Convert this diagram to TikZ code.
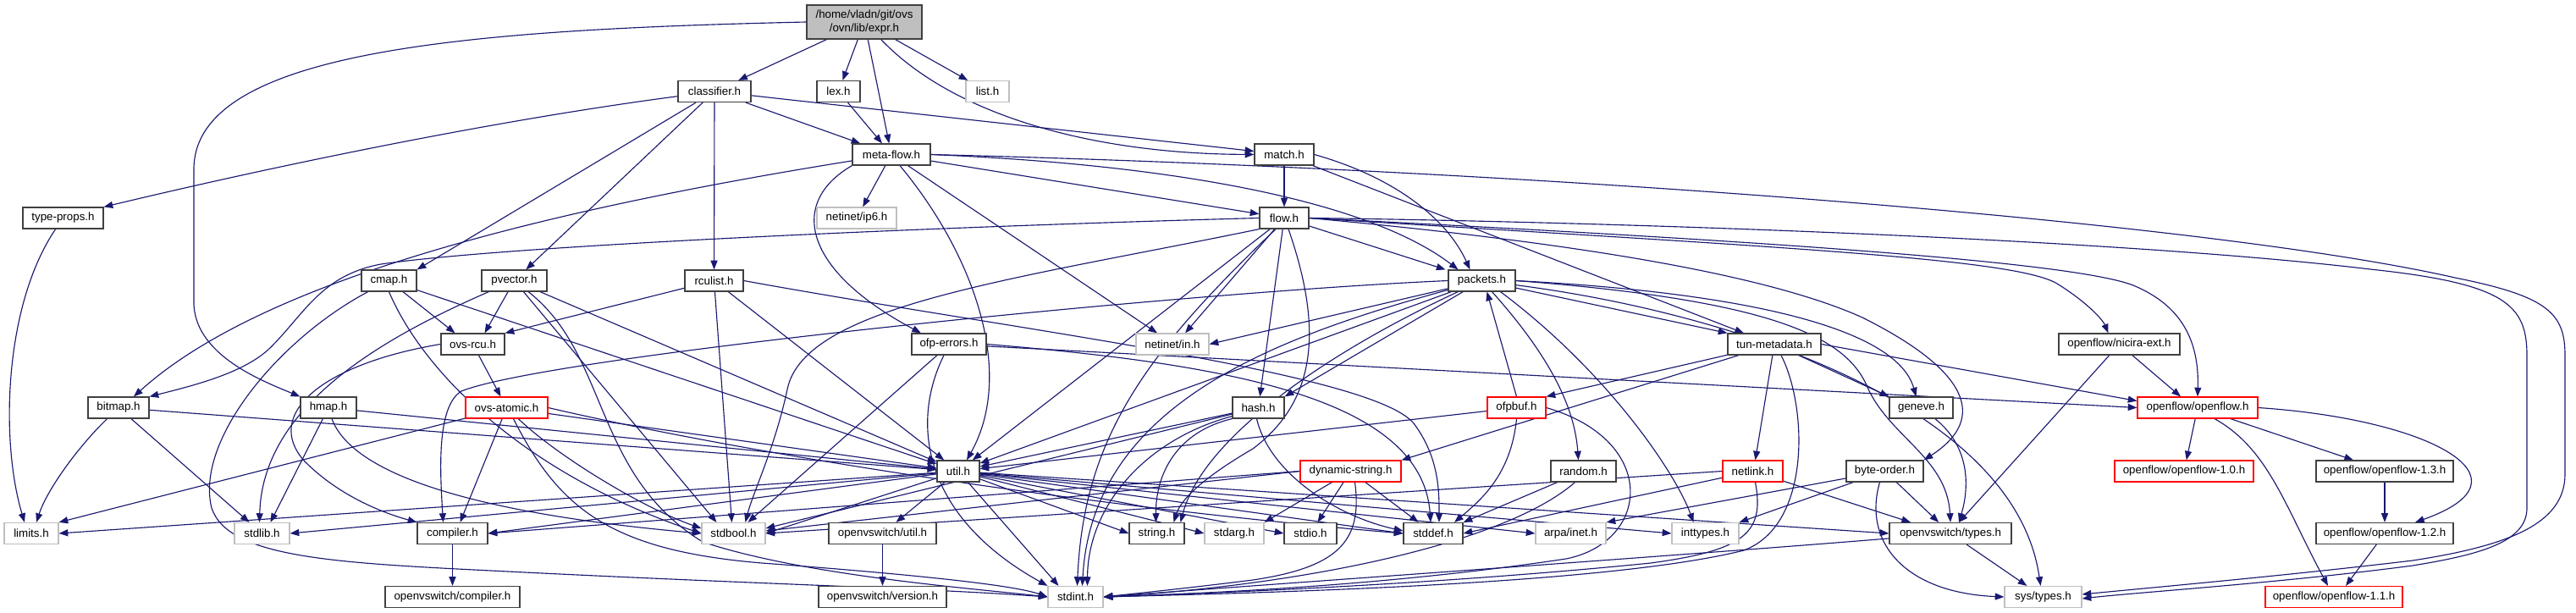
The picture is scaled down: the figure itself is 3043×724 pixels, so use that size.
\documentclass[tikz,border=0pt]{standalone}
\usepackage{fontspec}
\setmainfont{Liberation Sans}
\usetikzlibrary{arrows.meta,calc}
\definecolor{edgeblue}{HTML}{191970}
\definecolor{extgray}{HTML}{BFBFBF}
\definecolor{docgray}{HTML}{404040}
\pgfdeclarelayer{bg}
\pgfsetlayers{bg,main}
\tikzset{
  base/.style={rectangle, inner sep=0pt, minimum height=18.75pt, fill=white, line width=0.9pt, text=black, font=\fontsize{10}{11.5}\selectfont},
  doc/.style={base, draw=docgray},
  ext/.style={base, draw=extgray},
  trunc/.style={base, draw=red},
  gr/.style={base, draw=docgray, fill=extgray, align=center},
  bw/.style={minimum width=#1*0.75pt},
  e/.style={draw=edgeblue, line width=0.85pt, -{Triangle[length=8pt,width=6pt]}},
}
\begin{document}
\begin{tikzpicture}[x=0.75pt,y=-0.75pt]
\useasboundingbox (0,0) rectangle (3043,724);
% nodes
\node[gr, bw=136, minimum height=30pt] (expr) at (1021,26) {/home/vladn/git/ovs\\/ovn/lib/expr.h};
\node[doc, bw=86] (classifier) at (844,108) {classifier.h};
\node[doc, bw=51] (lex) at (990.5,108) {lex.h};
\node[ext, bw=51] (list) at (1166.5,108) {list.h};
\node[doc, bw=92] (metaflow) at (1053,182.5) {meta-flow.h};
\node[doc, bw=70] (match) at (1517,182.5) {match.h};
\node[doc, bw=95] (typeprops) at (74.5,257.5) {type-props.h};
\node[ext, bw=94] (ip6) at (1012,257.5) {netinet/ip6.h};
\node[doc, bw=58] (flow) at (1517,257.5) {flow.h};
\node[doc, bw=65] (cmap) at (459.5,331.5) {cmap.h};
\node[doc, bw=77] (pvector) at (607.5,331.5) {pvector.h};
\node[doc, bw=69] (rculist) at (843.5,331.5) {rculist.h};
\node[doc, bw=79] (packets) at (1750.5,331.5) {packets.h};
\node[doc, bw=75] (ovsrcu) at (558.5,406.5) {ovs-rcu.h};
\node[doc, bw=88] (ofperrors) at (1121,406.5) {ofp-errors.h};
\node[ext, bw=86] (netinetin) at (1385,406.5) {netinet/in.h};
\node[doc, bw=110] (tunmeta) at (2096,406.5) {tun-metadata.h};
\node[doc, bw=143] (nicira) at (2503.5,406.5) {openflow/nicira-ext.h};
\node[doc, bw=72] (bitmap) at (140,481.5) {bitmap.h};
\node[doc, bw=66] (hmap) at (388,481.5) {hmap.h};
\node[trunc, bw=97] (ovsatomic) at (598.5,481.5) {ovs-atomic.h};
\node[doc, bw=61] (hash) at (1486.5,481.5) {hash.h};
\node[trunc, bw=69] (ofpbuf) at (1791.5,481.5) {ofpbuf.h};
\node[doc, bw=75] (geneve) at (2269.5,481.5) {geneve.h};
\node[trunc, bw=142] (openflow) at (2596,481.5) {openflow/openflow.h};
\node[doc, bw=50] (util) at (1132,556.5) {util.h};
\node[trunc, bw=119] (dynstr) at (1595.5,556.5) {dynamic-string.h};
\node[doc, bw=77] (random) at (1870.5,556.5) {random.h};
\node[trunc, bw=71] (netlink) at (2070.5,556.5) {netlink.h};
\node[doc, bw=91] (byteorder) at (2226.5,556.5) {byte-order.h};
\node[trunc, bw=164] (of10) at (2580,556.5) {openflow/openflow-1.0.h};
\node[doc, bw=162] (of13) at (2817,556.5) {openflow/openflow-1.3.h};
\node[ext, bw=64] (limits) at (37,630) {limits.h};
\node[ext, bw=65] (stdlib) at (309.5,630) {stdlib.h};
\node[doc, bw=83] (compiler) at (534.5,630) {compiler.h};
\node[ext, bw=75] (stdbool) at (866.5,630) {stdbool.h};
\node[doc, bw=127] (ovsutil) at (1042.5,630) {openvswitch/util.h};
\node[doc, bw=65] (string) at (1366.5,630) {string.h};
\node[ext, bw=70] (stdarg) at (1458,630) {stdarg.h};
\node[doc, bw=62] (stdio) at (1548,630) {stdio.h};
\node[doc, bw=70] (stddef) at (1693,630) {stddef.h};
\node[ext, bw=83] (arpainet) at (1855.5,630) {arpa/inet.h};
\node[ext, bw=79] (inttypes) at (2014.5,630) {inttypes.h};
\node[doc, bw=144] (ovstypes) at (2304,630) {openvswitch/types.h};
\node[doc, bw=162] (of12) at (2817,630) {openflow/openflow-1.2.h};
\node[doc, bw=159] (ovscompiler) at (534.5,705) {openvswitch/compiler.h};
\node[doc, bw=151] (ovsversion) at (1042.5,705) {openvswitch/version.h};
\node[ext, bw=65] (stdint) at (1270.5,705) {stdint.h};
\node[ext, bw=91] (systypes) at (2413.5,705) {sys/types.h};
\node[trunc, bw=162] (of11) at (2757,705) {openflow/openflow-1.1.h};

\begin{pgfonlayer}{bg}
\fill[white] (0,0) rectangle (3043,724);
% expr
\draw[e] (expr) -- (classifier);
\draw[e] (expr) -- (lex);
\draw[e] (expr) -- (metaflow);
\draw[e] (expr) -- (list);
\draw[e] (expr) .. controls (1130,140) and (1300,182) .. (match);
\draw[e] (expr.west) .. controls (550,35) and (229,60) .. (229,200) -- (229,360) .. controls (232,420) and (310,450) .. (hmap.north west);
% classifier
\draw[e] (classifier) .. controls (600,140) and (350,190) .. (typeprops.north east);
\draw[e] (classifier) -- (cmap.north east);
\draw[e] (classifier) -- (pvector);
\draw[e] (classifier) -- (rculist);
\draw[e] (classifier) -- (metaflow);
\draw[e] (classifier) -- (match);
% lex
\draw[e] (lex) -- (metaflow);
% meta-flow
\draw[e] (metaflow) -- (ip6);
\draw[e] (metaflow) -- (flow);
\draw[e] (metaflow.east) .. controls (1400,195) and (1620,240) .. ($(packets.north)+(-28,0)$);
\draw[e] (metaflow) .. controls (600,255) and (300,340) .. ($(bitmap.north)+(18,0)$);
\draw[e] (metaflow.south west) .. controls (930,240) and (950,320) .. ($(ofperrors.north)+(-33,0)$);
\draw[e] ($(metaflow.south)+(10,0)$) .. controls (1150,300) and (1200,440) .. ($(util.north)+(10,0)$);
\draw[e] (metaflow) -- ($(netinetin.north)+(-18,0)$);
\draw[e] (metaflow.east) .. controls (1800,200) and (2600,260) .. (2900,328) .. controls (3010,350) and (3030,370) .. (3030,420) -- (3030,560) .. controls (3030,620) and (2960,645) .. (2850,662) .. controls (2700,680) and (2520,696) .. ($(systypes.east)+(0,-3)$);
% match
\draw[e] (match) -- (flow);
\draw[e] (match.east) .. controls (1650,210) and (1710,260) .. ($(packets.north)+(-14,0)$);
\draw[e] (match) -- ($(tunmeta.north)+(-36,0)$);
% flow
\draw[e] (flow) -- ($(packets.north)+(-43,0)$);
\draw[e] (flow.west) .. controls (1100,268) and (600,290) .. (450,312) .. controls (380,325) and (360,370) .. (320,410) .. controls (290,440) and (230,455) .. (bitmap.north east);
\draw[e] (flow.east) .. controls (1900,262) and (2500,282) .. (2800,318) .. controls (2960,335) and (2985,360) .. (2985,420) -- (2985,600) .. controls (2985,640) and (2930,655) .. (2850,668) .. controls (2700,688) and (2520,700) .. ($(systypes.east)+(0,2)$);
\draw[e] (flow.east) .. controls (2100,285) and (2450,310) .. (2520,337) .. controls (2575,360) and (2598,400) .. (openflow.north);
\draw[e] (flow.east) .. controls (2100,292) and (2380,305) .. (2430,335) .. controls (2470,360) and (2485,380) .. ($(nicira.north)+(-13,0)$);
\draw[e] (flow.east) .. controls (1900,290) and (2100,330) .. (2200,375) .. controls (2340,445) and (2340,500) .. (byteorder.north east);
\draw[e] (flow) -- ($(netinetin.north)+(15,0)$);
\draw[e] (flow) -- (hash);
\draw[e] ($(flow.south)+(5,0)$) .. controls (1560,380) and (1560,470) .. (1480,530) .. controls (1420,565) and (1395,590) .. ($(string.north)+(20,0)$);
\draw[e] (flow) -- (util);
\draw[e] (flow.south west) .. controls (1200,330) and (950,360) .. (930,460) .. controls (915,530) and (890,580) .. ($(stdbool.north)+(14,0)$);
\draw[e] ($(flow.south)+(-10,0)$) .. controls (1350,420) and (1280,520) .. ($(stdint.north)+(2,0)$);
% packets
\draw[e] (packets) -- (tunmeta.north west);
\draw[e] (packets.east) .. controls (2050,345) and (2240,385) .. ($(geneve.north)+(-6,0)$);
\draw[e] (packets.east) .. controls (2100,355) and (2180,400) .. (2205,455) .. controls (2230,515) and (2300,540) .. (ovstypes.north);
\draw[e] (packets) .. controls (2050,370) and (2380,480) .. ($(systypes.north)+(-3,0)$);
\draw[e] ($(packets.south)+(22,0)$) .. controls (1900,440) and (1980,560) .. ($(inttypes.north)+(-14,0)$);
\draw[e] ($(packets.south)+(12,0)$) .. controls (1830,420) and (1860,480) .. ($(random.north)+(-6,0)$);
\draw[e] (packets) .. controls (1500,400) and (1290,480) .. ($(stdint.north)+(8,0)$);
\draw[e] (packets) .. controls (1560,420) and (1420,520) .. ($(string.north)+(28,0)$);
\draw[e] (packets.west) .. controls (1400,345) and (650,420) .. (545,462) .. controls (515,480) and (520,560) .. ($(compiler.north)+(-11,0)$);
\draw[e] (packets) -- (hash.north east);
\draw[e] (packets) -- (util);
\draw[e] (packets) -- (netinetin.east);
\draw[e] (ofpbuf.north) -- ($(packets.south)+(6,0)$);
% tun-metadata
\draw[e] (tunmeta) -- (ofpbuf.north east);
\draw[e] (tunmeta) -- (dynstr.north east);
\draw[e] (tunmeta) -- ($(netlink.north)+(3,0)$);
\draw[e] (tunmeta) -- (geneve.north west);
\draw[e] (tunmeta.east) -- ($(openflow.west)+(0,-8)$);
\draw[e] ($(tunmeta.south)+(8,0)$) .. controls (2135,480) and (2140,620) .. (2060,650) .. controls (1900,690) and (1500,700) .. (stdint.east);
% ofp-errors
\draw[e] (ofperrors) -- (openflow.west);
\draw[e] (ofperrors.east) .. controls (1450,430) and (1680,470) .. ($(stddef.north)+(-3,0)$);
\draw[e] ($(ofperrors.south)+(-14,0)$) -- ($(stdbool.north)+(17,0)$);
\draw[e] ($(ofperrors.south)+(-6,0)$) .. controls (1075,500) and (1090,610) .. (stdint.north west);
% hash
\draw[e] (hash) -- (util);
\draw[e] ($(hash.south west)+(0,-3)$) .. controls (1350,520) and (1285,600) .. ($(stdint.north)+(14,0)$);
\draw[e] (hash.south west) .. controls (1390,510) and (1365,560) .. ($(string.north)+(-1,0)$);
\draw[e] ($(hash.south)+(-2,0)$) .. controls (1500,560) and (1580,610) .. ($(stddef.west)+(0,-3)$);
\draw[e] (hash) -- ($(stdbool.east)+(0,-6)$);
% util
\draw[e] (util) -- (limits.east);
\draw[e] (util) -- (stdlib.east);
\draw[e] (util) -- (compiler.east);
\draw[e] (util) -- (stdbool.east);
\draw[e] (util) -- (ovsutil);
\draw[e] (util) -- ($(stdint.north)+(-20,0)$);
\draw[e] (util) -- (string.west);
\draw[e] (util) -- (stdarg.west);
\draw[e] (util) -- (stdio.west);
\draw[e] (util) -- (stddef.west);
\draw[e] (util) -- (arpainet.west);
\draw[e] (util) -- (inttypes.west);
\draw[e] (util) -- (ovstypes.west);
\draw[e] (ovsutil) -- (ovsversion);
\draw[e] (compiler) -- (ovscompiler);
\draw[e] (ovstypes) .. controls (2000,655) and (1500,690) .. (stdint.east);
\draw[e] (ovstypes) -- (systypes);
% dynamic-string
\draw[e] (dynstr) -- (stdio);
\draw[e] (dynstr) -- (stddef);
\draw[e] (dynstr) -- (stdarg.north east);
\draw[e] ($(dynstr.south)+(5,0)$) .. controls (1610,640) and (1580,670) .. (1480,685) .. controls (1400,695) and (1350,700) .. (stdint.east);
\draw[e] (dynstr.west) -- ($(stdbool.east)+(0,-3)$);
\draw[e] (dynstr.west) -- (compiler.east);
% random
\draw[e] (random) -- (stddef.north east);
\draw[e] ($(random.south)+(-10,0)$) .. controls (1780,640) and (1550,690) .. (stdint.east);
% ofpbuf
\draw[e] (ofpbuf) -- (util);
\draw[e] (ofpbuf.south) .. controls (1785,560) and (1750,590) .. ($(stddef.north)+(25,0)$);
\draw[e] (ofpbuf.east) .. controls (1960,520) and (1950,640) .. (1850,660) .. controls (1650,690) and (1450,700) .. (stdint.east);
% netlink
\draw[e] (netlink) -- ($(ovstypes.north)+(-47,0)$);
\draw[e] ($(netlink.south)+(3,0)$) .. controls (2085,630) and (2060,650) .. (1950,665) .. controls (1700,690) and (1450,700) .. (stdint.east);
\draw[e] (netlink) -- (stddef.east);
\draw[e] (netlink.west) -- (stdbool.east);
% byte-order
\draw[e] (byteorder) -- (arpainet.north east);
\draw[e] (byteorder) -- (inttypes.north east);
\draw[e] (byteorder) -- (ovstypes);
\draw[e] ($(byteorder.south)+(-6,0)$) .. controls (2200,640) and (2250,700) .. (systypes.west);
% geneve
\draw[e] (geneve) .. controls (2330,530) and (2325,580) .. ($(ovstypes.north)+(10,0)$);
% nicira
\draw[e] (nicira) -- ($(openflow.north)+(-20,0)$);
\draw[e] (nicira) -- ($(ovstypes.north)+(10,0)$);
% openflow
\draw[e] (openflow) -- (of10);
\draw[e] ($(openflow.south)+(20,0)$) .. controls (2680,530) and (2700,600) .. ($(of11.north)+(-7,0)$);
\draw[e] (openflow) -- ($(of13.north)+(-37,0)$);
\draw[e] (openflow.east) .. controls (2870,495) and (3000,565) .. ($(of12.north)+(36,0)$);
\draw[e] (of13) -- (of12);
\draw[e] (of12) -- ($(of11.north)+(14,0)$);
% ovs-rcu
\draw[e] (ovsrcu) -- (ovsatomic);
\draw[e] (ovsrcu.west) .. controls (380,430) and (310,490) .. (360,545) .. controls (400,585) and (450,605) .. (compiler.north west);
% ovs-atomic
\draw[e] (ovsatomic) -- (limits.north east);
\draw[e] (ovsatomic) -- ($(compiler.north)+(9,0)$);
\draw[e] (ovsatomic) .. controls (660,540) and (760,600) .. ($(stdbool.west)+(0,-6)$);
\draw[e] ($(ovsatomic.south)+(8,0)$) .. controls (660,600) and (720,650) .. (900,665) .. controls (1100,680) and (1200,692) .. (stdint.west);
\draw[e] (ovsatomic) -- (util);
\draw[e] (ovsatomic.east) .. controls (900,540) and (1300,600) .. (stddef.west);
% bitmap
\draw[e] (bitmap) .. controls (90,530) and (55,580) .. ($(limits.north)+(6,0)$);
\draw[e] (bitmap) -- ($(stdlib.north)+(-15,0)$);
\draw[e] (bitmap) -- (util);
% hmap
\draw[e] (hmap) -- (util);
\draw[e] (hmap) -- ($(stdlib.north)+(10,0)$);
\draw[e] ($(hmap.south)+(4,0)$) .. controls (420,570) and (600,610) .. (stdbool.west);
% type-props
\draw[e] (typeprops) .. controls (5,360) and (0,520) .. ($(limits.north)+(-8,0)$);
% cmap
\draw[e] (cmap) -- ($(ovsrcu.north)+(-21,0)$);
\draw[e] (cmap) -- (util);
\draw[e] (cmap.south) .. controls (500,440) and (620,560) .. (stdbool.west);
\draw[e] (cmap) .. controls (330,400) and (230,520) .. (250,600) .. controls (270,660) and (400,665) .. (600,675) .. controls (900,690) and (1100,695) .. (stdint.west);
% pvector
\draw[e] (pvector) .. controls (450,400) and (310,480) .. ($(stdlib.north)+(-3,0)$);
\draw[e] (pvector) -- ($(ovsrcu.north)+(14,0)$);
\draw[e] (pvector) -- (util);
\draw[e] (pvector) -- ($(stdbool.north)+(-20,0)$);
\draw[e] (pvector) .. controls (720,420) and (700,560) .. (830,640) .. controls (950,680) and (1150,695) .. (stdint.west);
% rculist
\draw[e] (rculist) -- (ovsrcu.north east);
\draw[e] (rculist) -- ($(stdbool.north)+(-2,0)$);
\draw[e] (rculist) -- (util);
\draw[e] (rculist.east) .. controls (1200,390) and (1620,440) .. (1670,500) .. controls (1700,540) and (1700,580) .. ($(stddef.north)+(7,0)$);
\end{pgfonlayer}
\end{tikzpicture}
\end{document}
